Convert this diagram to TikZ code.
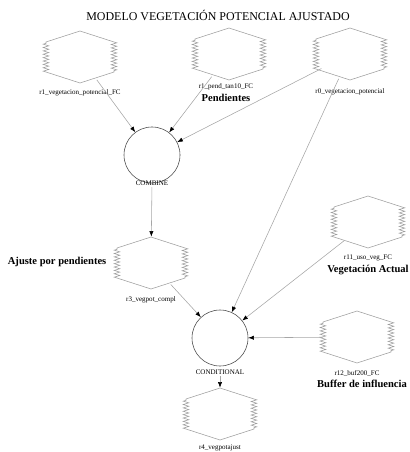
\documentclass[tikz,border=0pt]{standalone}
\usepackage{fontspec}
\setmainfont{Liberation Serif}
\usetikzlibrary{shapes.geometric,arrows,arrows.meta,positioning,decorations.pathmorphing}

\tikzset{
  hexnode/.style={ellipse, minimum width=1.7cm, minimum height=1.3cm, inner sep=0pt},
  hexline/.style={draw=gray!75, line width=0.4pt,
    decoration={zigzag, segment length=2.4pt, amplitude=2pt}},
  tool/.style={circle, draw=gray!55!black, line width=0.4pt, minimum size=1.4cm, inner sep=0pt},
  conn/.style={draw=gray!70, line width=0.4pt, -{Latex[black,length=4pt,width=3pt]}},
  lbl/.style={font=\fontsize{5}{6}\selectfont, inner sep=1pt},
  capt/.style={font=\fontsize{7.5}{9}\selectfont\bfseries, inner sep=1pt},
}

\begin{document}
\begin{tikzpicture}[x=0.025cm,y=-0.025cm]
    \useasboundingbox (0,0) rectangle (409,452);

    % Title (top center)
    \node[font=\fontsize{8.5}{10}\selectfont] (title) at (218,15) {MODELO VEGETACIÓN POTENCIAL AJUSTADO};

    % Input rasters
    \node[hexnode] (h1) at (80,57) {};
    \node[hexnode] (h2) at (229,54) {};
    \node[hexnode] (h3) at (350,54) {};
    \node[lbl] (l1) at (80,93) {r1\_vegetacion\_potencial\_FC};
    \node[lbl] (l2) at (226,87) {r1\_pend\_tan10\_FC};
    \node[capt] (p2) at (226,98) {Pendientes};
    \node[lbl] (l3) at (350,92) {r0\_vegetacion\_potencial};

    % First tool
    \node[tool] (c1) at (152,155) {};
    \node[lbl] (t1) at (152,183) {COMBINE};

    % Adjusted raster
    \node[hexnode] (h4) at (151,263) {};
    \node[lbl] (l4) at (151,300) {r3\_vegpot\_compl};
    \node[capt,anchor=east] (p4) at (108,262) {Ajuste por pendientes};

    % Right hand inputs
    \node[hexnode] (h5) at (368,222) {};
    \node[lbl] (l5) at (368,258) {r11\_uso\_veg\_FC};
    \node[capt] (p5) at (368,270) {Vegetación Actual};
    \node[hexnode] (h6) at (357,337) {};
    \node[lbl] (l6) at (357,373) {r12\_buf200\_FC};
    \node[capt] (p6) at (362,384) {Buffer de influencia};

    % Second tool and output
    \node[tool] (c2) at (220,338) {};
    \node[lbl] (t2) at (220,372) {CONDITIONAL};
    \node[hexnode] (h7) at (220,414) {};
    \node[lbl] (l7) at (220,448) {r4\_vegpotajust};

    % Raster outlines (hexagon with zigzag sides)
    \foreach \n in {h1,h2,h3,h4,h5,h6,h7} {
        \draw[hexline, shift={(\n)}] (-34,-15) -- (0,-26) -- (34,-15)
            decorate{-- (34,15)} -- (0,26) -- (-34,15) decorate{-- (-34,-15)};
    }

    % Connectors
    \draw[conn] (h1) -- (c1);
    \draw[conn] (h2) -- (c1);
    \draw[conn] (h3) -- (c1);
    \draw[conn] (t1) -- (h4);
    \draw[conn] (h4) -- (c2);
    \draw[conn] (h3) -- (c2);
    \draw[conn] (h5) -- (c2);
    \draw[conn] (h6) -- (c2);
    \draw[conn] (t2) -- (h7);
\end{tikzpicture}
\end{document}
